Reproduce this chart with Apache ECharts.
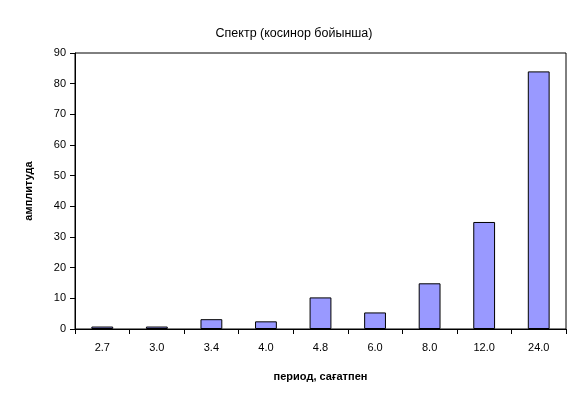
<!DOCTYPE html>
<html><head><meta charset="utf-8">
<script src="https://cdn.jsdelivr.net/npm/echarts@6/dist/echarts.min.js"></script>
<style>html,body{margin:0;padding:0;background:#fff}#c{width:577px;height:396px}</style>
</head><body><div id="c"></div>
<script>
const categories = ["2.7","3.0","3.4","4.0","4.8","6.0","8.0","12.0","24.0"];
const amplitude = [0.8,0.8,3.2,2.5,10.3,5.4,14.9,34.9,84];
const titleText = "Спектр (косинор бойынша)";
const xName = "период, сағатпен";
const yName = "амплитуда";
const font = "Liberation Sans, Arial, sans-serif";
const chart = echarts.init(document.getElementById('c'));
chart.setOption({
  animation:false,
  title:{text:titleText,left:289,top:22,textAlign:'center',textStyle:{fontFamily:font,fontSize:12.5,fontWeight:'normal',color:'#000'}},
  grid:{left:75,top:53,right:11,bottom:67,show:true,borderColor:'#000',borderWidth:1},
  xAxis:{type:'category',data:categories,
    axisLine:{lineStyle:{color:'#000'}},
    axisTick:{show:true,alignWithLabel:false,length:5,lineStyle:{color:'#000'}},
    axisLabel:{fontFamily:font,fontSize:11,color:'#000',margin:13},
    name:xName,nameLocation:'middle',nameGap:42,
    nameTextStyle:{fontFamily:font,fontSize:11,fontWeight:'bold',color:'#000'}},
  yAxis:{type:'value',min:0,max:90,interval:10,
    splitLine:{show:false},
    axisLine:{show:true,lineStyle:{color:'#000'}},
    axisTick:{show:true,length:5,lineStyle:{color:'#000'}},
    axisLabel:{fontFamily:font,fontSize:11,color:'#000',margin:9},
    name:yName,nameLocation:'middle',nameGap:41,nameRotate:90,
    nameTextStyle:{fontFamily:font,fontSize:11,fontWeight:'bold',color:'#000'}},
  series:[{type:'bar',data:amplitude,barCategoryGap:'60%',
    itemStyle:{color:'#9999FF',borderColor:'#000',borderWidth:1}}]
});
</script></body></html>
